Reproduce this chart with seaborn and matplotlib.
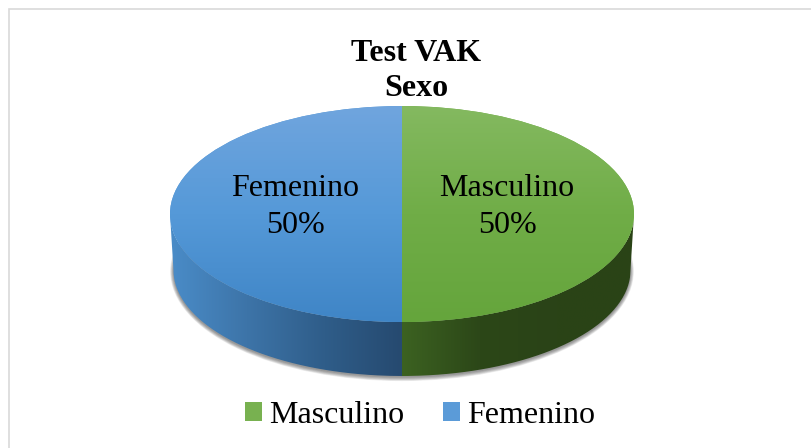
"""
plot.py
Test VAK - Sexo: pie 3D (50/50) dengan seaborn + matplotlib.
"""

import numpy as np
import matplotlib
matplotlib.use('Agg')
import matplotlib.pyplot as plt
import seaborn as sns
from matplotlib.colors import LinearSegmentedColormap
from matplotlib.patches import Ellipse, PathPatch, Rectangle
from matplotlib.path import Path

# ─── Data ───────────────────────────────────────────────────────────────────
categories = ['Masculino', 'Femenino']
values     = [50, 50]
title_text = 'Test VAK\nSexo'

# ─── Warna ──────────────────────────────────────────────────────────────────
base_colors = ['#70ad47', '#5b9bd5']
top_grads   = [['#84b960', '#70ad47', '#65a53c'],
               ['#70a5de', '#5599d8', '#3f85c6']]
side_grads  = [['#3c6221', '#2c4718', '#2a4317', '#2a4416'],
               ['#4a8cc8', '#3d74a8', '#2f5d89', '#264a70']]

W, H = 811, 448
CX, CY, RX, RY = 402, 214, 232, 108
DEPTH = 0.52


def gradient_image(ax, colors, extent, clip, vertical=True):
    cmap = LinearSegmentedColormap.from_list('g', colors)
    grad = np.linspace(0, 1, 256)
    grad = grad[:, None] if vertical else grad[None, :]
    im = ax.imshow(grad, cmap=cmap, extent=extent, aspect='auto',
                   origin='upper', zorder=clip.get_zorder(), interpolation='bilinear')
    im.set_clip_path(clip)
    return im


def side_path(theta_from, theta_to):
    t = np.radians(np.linspace(theta_from, theta_to, 120))
    top = np.column_stack([np.cos(t), np.sin(t)])
    bottom = np.column_stack([0.985 * np.cos(t[::-1]), 0.98 * np.sin(t[::-1]) - DEPTH])
    return Path(np.vstack([top, bottom, top[:1]]))


sns.set_theme(style='white')
plt.rcParams['font.family'] = ['Liberation Serif', 'DejaVu Serif']

fig = plt.figure(figsize=(W / 100, H / 100), dpi=100, facecolor='white')

# bingkai chart
bg = fig.add_axes([0, 0, 1, 1], zorder=0)
bg.set_xlim(0, W)
bg.set_ylim(H, 0)
bg.axis('off')
bg.add_patch(Rectangle((9, 9), W + 20, H + 20, fc='white', ec='#d9d9d9', lw=1.2))

# ── Pie ─────────────────────────────────────────────────────────────────────
ax_h = RY * (1 + 1 + DEPTH + 0.1)
ax = fig.add_axes([(CX - RX) / W, 1 - (CY + RY + RY * (DEPTH + 0.1)) / H,
                   2 * RX / W, ax_h / H], zorder=1)
wedges, _ = ax.pie(values, colors=sns.color_palette(base_colors), startangle=90,
                   counterclock=False, radius=1, wedgeprops={'linewidth': 0})
ax.set_aspect('auto')
ax.set_xlim(-1, 1)
ax.set_ylim(-1 - DEPTH - 0.1, 1)
ax.patch.set_alpha(0)

for w in wedges:
    w.set_clip_on(False)
    w.set_zorder(4)

# bayangan lembut di bawah sisi pie
for k in range(8):
    ax.add_patch(Ellipse((0, -DEPTH - 0.012), 2 * (0.985 + 0.002 * k), 2 * (0.98 + 0.005 * k),
                         fc='#404040', ec='none', alpha=0.09, zorder=1, clip_on=False))

# sisi pie (gradien horizontal)
side_ranges = [(270, 360), (180, 270)]
side_extents = [(0, 1, -1.6, 1), (-1, 0, -1.6, 1)]
for grad, rng, ext in zip(side_grads, side_ranges, side_extents):
    clip = PathPatch(side_path(*rng), transform=ax.transData, fc='none', ec='none', zorder=2)
    ax.add_patch(clip)
    gradient_image(ax, grad, ext, clip, vertical=False)

# permukaan atas (gradien vertikal)
for w, grad in zip(wedges, top_grads):
    gradient_image(ax, grad, (-1, 1, -1, 1), w)
ax.set_xlim(-1, 1)
ax.set_ylim(-1 - DEPTH - 0.1, 1)

# ── Teks ────────────────────────────────────────────────────────────────────
txt = fig.add_axes([0, 0, 1, 1], zorder=5)
txt.set_xlim(0, W)
txt.set_ylim(H, 0)
txt.axis('off')

label_pos = [(507, 207), (295, 207)]
for name, val, (x, y) in zip(categories, values, label_pos):
    txt.text(x, y, f'{name}\n{val}%', ha='center', va='center', fontsize=23,
             color='black', linespacing=1.33)

txt.text(416, 71, title_text, ha='center', va='center', fontsize=23,
         fontweight='bold', color='black', linespacing=1.3)

handles = [Rectangle((0, 0), 1, 1, fc=c, ec='none') for c in ['#78b150', '#5b9bd8']]
leg = txt.legend(handles, categories, loc='center', bbox_to_anchor=(420 / W, 1 - 415 / H),
                 ncol=2, frameon=False, fontsize=23, handlelength=0.53, handleheight=0.53,
                 handletextpad=0.22, columnspacing=1.2, borderpad=0, labelcolor='black')

plt.savefig('out.png', dpi=100)
print('saved out.png')
